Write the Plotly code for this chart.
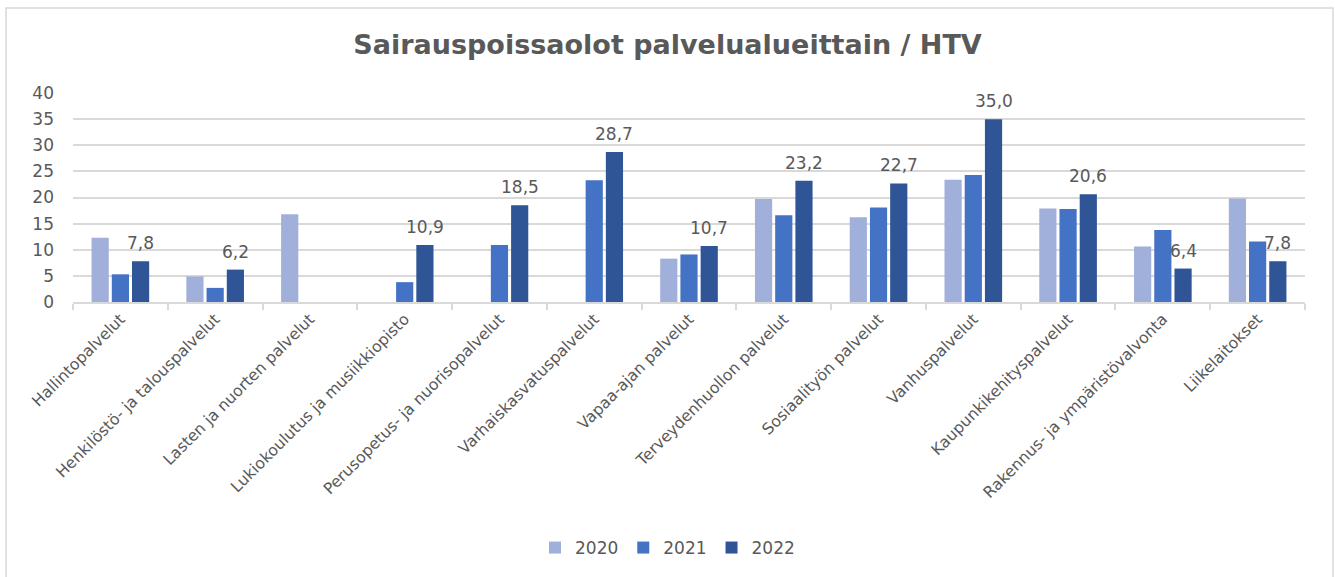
import plotly.graph_objects as go

categories = [
    "Hallintopalvelut",
    "Henkilöstö- ja talouspalvelut",
    "Lasten ja nuorten palvelut",
    "Lukiokoulutus ja musiikkiopisto",
    "Perusopetus- ja nuorisopalvelut",
    "Varhaiskasvatuspalvelut",
    "Vapaa-ajan palvelut",
    "Terveydenhuollon palvelut",
    "Sosiaalityön palvelut",
    "Vanhuspalvelut",
    "Kaupunkikehityspalvelut",
    "Rakennus- ja ympäristövalvonta",
    "Liikelaitokset",
]
v2020 = [12.3, 4.9, 16.8, None, None, None, 8.3, 19.7, 16.2, 23.4, 17.9, 10.6, 19.8]
v2021 = [5.3, 2.7, None, 3.8, 10.9, 23.3, 9.1, 16.6, 18.1, 24.3, 17.8, 13.8, 11.6]
v2022 = [7.8, 6.2, None, 10.9, 18.5, 28.7, 10.7, 23.2, 22.7, 35.0, 20.6, 6.4, 7.8]
series_names = ["2020", "2021", "2022"]
colors = ["#A1B0DA", "#4472C4", "#2F5597"]
yticks = [0, 5, 10, 15, 20, 25, 30, 35, 40]

W, H = 1335, 577
ML, MR, MT, MB = 73, 30, 93, 275
BARGAP = 0.36
TXT = "#595959"
GRID = "#D9D9D9"

fig = go.Figure()
for name, vals, col in zip(series_names, [v2020, v2021, v2022], colors):
    fig.add_trace(go.Bar(x=categories, y=vals, name=name, marker_color=col,
                         marker_line_width=0))

# data labels for 2022 above the bars
offset = (1 - BARGAP) / 3
for i, v in enumerate(v2022):
    if v is None:
        continue
    fig.add_annotation(x=i + offset, y=v, xref="x", yref="y",
                       text=f"{v:.1f}".replace(".", ","), showarrow=False,
                       yanchor="bottom", yshift=6,
                       font=dict(family="DejaVu Sans", size=17, color=TXT))

ph = H - MT - MB
pw = W - ML - MR
fig.add_shape(type="rect", xref="paper", yref="paper",
              x0=(6 - ML) / pw, x1=(1333 - ML) / pw,
              y0=-(H + 5 - (H - MB)) / ph, y1=((H - MB) - 8) / ph,
              line=dict(color=GRID, width=1.5), fillcolor="rgba(0,0,0,0)", layer="below")

fig.update_layout(
    width=W, height=H,
    margin=dict(l=ML, r=MR, t=MT, b=MB),
    paper_bgcolor="white", plot_bgcolor="white",
    barmode="group", bargap=BARGAP, bargroupgap=0.15,
    separators=", ",
    font=dict(family="DejaVu Sans", color=TXT),
    title=dict(text="<b>Sairauspoissaolot palvelualueittain / HTV</b>",
               x=0.5, xref="container", xanchor="center",
               y=1 - 45 / H, yref="container", yanchor="middle",
               font=dict(family="DejaVu Sans", size=27, color=TXT)),
    legend=dict(orientation="h", x=0.5, xref="container", xanchor="center",
                y=1 - 548 / H, yref="container", yanchor="middle",
                font=dict(size=17, color=TXT), itemwidth=30,
                traceorder="normal"),
    showlegend=True,
)
fig.update_xaxes(type="category", tickangle=-45, tickfont=dict(size=15.7, color=TXT),
                 showline=True, linecolor=GRID, linewidth=1.5,
                 ticks="outside", tickson="boundaries", tickcolor=GRID, ticklen=6,
                 tickwidth=1.5, showgrid=False)
fig.update_yaxes(range=[0, 40], tickvals=yticks, tickfont=dict(size=17, color=TXT),
                 showgrid=True, gridcolor=GRID, gridwidth=1.5, zeroline=False,
                 showline=False, ticks="", ticklabelstandoff=18)

fig.write_html("out.html", config={"displayModeBar": False},
               post_script="document.body.style.margin='0px';")
